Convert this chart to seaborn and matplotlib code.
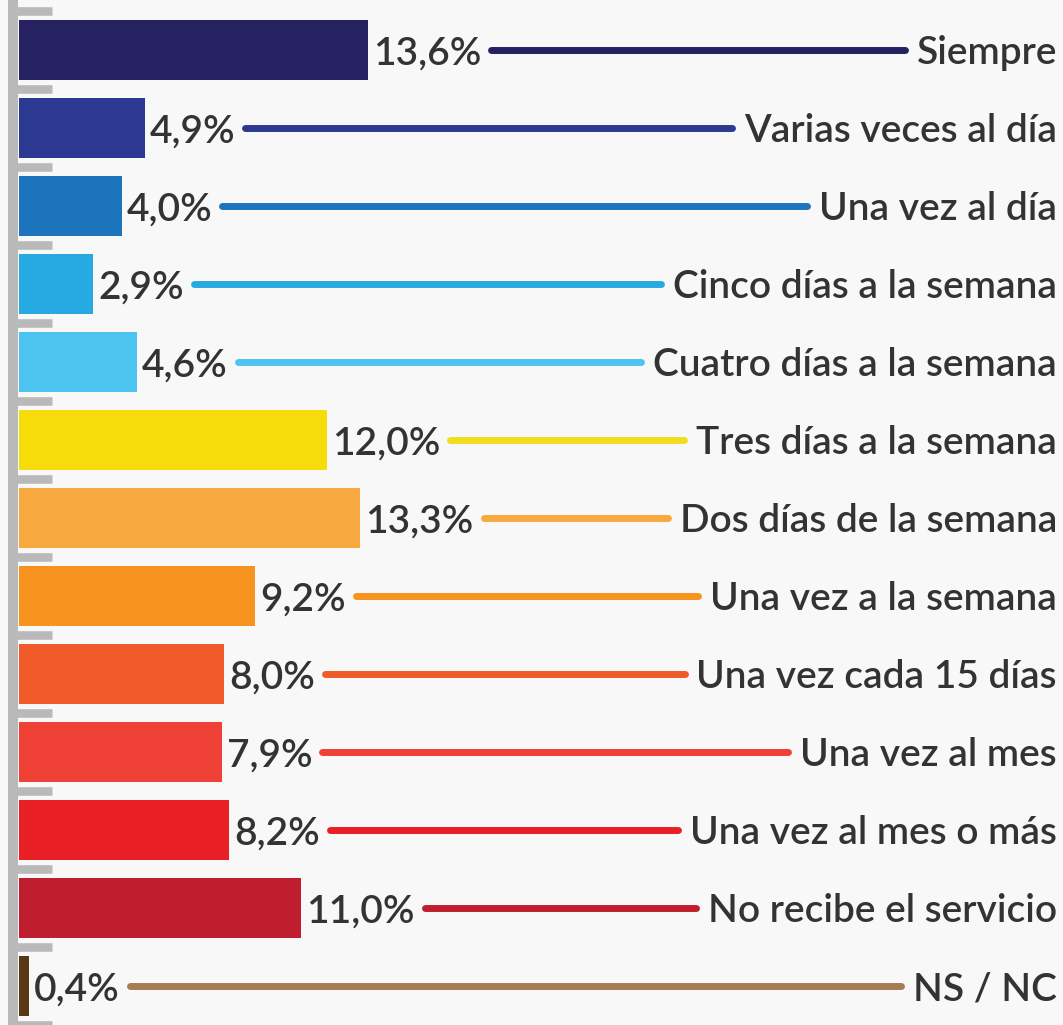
import matplotlib
matplotlib.use("Agg")
import matplotlib.pyplot as plt
import seaborn as sns
import pandas as pd

categories = ["Siempre", "Varias veces al día", "Una vez al día", "Cinco días a la semana",
              "Cuatro días a la semana", "Tres días a la semana", "Dos días de la semana",
              "Una vez a la semana", "Una vez cada 15 días", "Una vez al mes",
              "Una vez al mes o más", "No recibe el servicio", "NS / NC"]
values = [13.6, 4.9, 4.0, 2.9, 4.6, 12.0, 13.3, 9.2, 8.0, 7.9, 8.2, 11.0, 0.4]
bar_colors = ["#262262", "#2b3990", "#1c75bc", "#27aae1", "#4dc3f0", "#f6dd0a",
              "#f7a93f", "#f7931e", "#f15a29", "#ef4136", "#e91f26", "#be1e2d", "#5a3714"]
line_colors = ["#262262", "#2b3990", "#1c75bc", "#27aae1", "#4dc3f0", "#f2dd1c",
               "#f7a93f", "#f7931e", "#f15a29", "#ef4136", "#e91f26", "#be1e2d", "#a67c52"]

df = pd.DataFrame({"cat": categories, "val": values})

W, H, DPI = 1063, 1025, 100
sns.set_theme(style="white")
plt.rcParams["font.family"] = ["Lato", "DejaVu Sans"]
bg = "#f8f8f8"
fig = plt.figure(figsize=(W / DPI, H / DPI), dpi=DPI, facecolor=bg)
ax = fig.add_axes([0, 0, 1, 1], facecolor=bg)

sns.barplot(data=df, y="cat", x="val", hue="cat", palette=bar_colors, legend=False,
            orient="h", width=0.77, saturation=1, linewidth=0, ax=ax, zorder=3)

# scale: px per percent, bars start at x=19 px
pxu = 349 / 13.6
ax.set_xlim(-19 / pxu, (W - 19) / pxu)
pitch = (988 - 50) / 12
ax.set_ylim(12 + (H - 988) / pitch, -50 / pitch)
ax.set_xlabel("")
ax.set_ylabel("")
ax.set_xticks([])

for s in ["top", "right", "bottom"]:
    ax.spines[s].set_visible(False)
ax.spines["left"].set_position(("data", -6 / pxu))
ax.spines["left"].set_color("#b9b9b9")
ax.spines["left"].set_linewidth(7.2)
ax.spines["left"].set_zorder(1)
ax.set_yticks([i - 0.5 for i in range(len(categories) + 1)])
ax.set_yticklabels([])
ax.tick_params(axis="y", direction="in", length=28, width=6.2, color="#b9b9b9", left=True)

txt_color = "#333333"
fs = 28
vtexts, ctexts = [], []
for i, (v, c) in enumerate(zip(values, categories)):
    lab = f"{v:.1f}".replace(".", ",") + "%"
    vtexts.append(ax.text(v + 5 / pxu, i, lab, ha="left", va="center_baseline",
                          fontsize=fs, color=txt_color, fontweight="semibold", zorder=4))
    ctexts.append(ax.text((W - 6 - 19) / pxu, i, c, ha="right", va="center_baseline",
                          fontsize=fs, color=txt_color, fontweight="semibold", zorder=4))

fig.canvas.draw()
r = fig.canvas.get_renderer()
inv = ax.transData.inverted()
for i in range(len(values)):
    b1 = vtexts[i].get_window_extent(r)
    b2 = ctexts[i].get_window_extent(r)
    x0 = inv.transform((b1.x1 + 10, 0))[0]
    x1 = inv.transform((b2.x0 - 12, 0))[0]
    ax.plot([x0, x1], [i, i], color=line_colors[i], lw=5, solid_capstyle="round", zorder=2)

fig.savefig("out.png", dpi=DPI, facecolor=bg)
